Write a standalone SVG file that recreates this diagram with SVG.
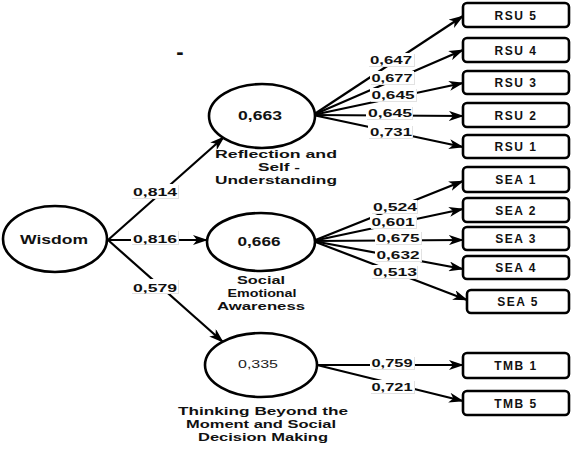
<svg xmlns="http://www.w3.org/2000/svg" width="576" height="450" viewBox="0 0 576 450">
<defs>
<marker id="ah" viewBox="0 0 15 10" refX="14" refY="5" markerWidth="15" markerHeight="10" markerUnits="userSpaceOnUse" orient="auto">
<path d="M0,0 L15,5 L0,10 L4,5 z" fill="#000"/>
</marker>
<style>
.ell{fill:#fff;stroke:#000;stroke-width:2.6}
.box{fill:#fff;stroke:#000;stroke-width:2.6}
.lt{font-family:"Liberation Sans",Arial,sans-serif;font-weight:bold;font-size:12px;fill:#111;text-anchor:middle}
.ml{font-family:"Liberation Sans",Arial,sans-serif;font-weight:bold;font-size:11px;fill:#111;text-anchor:middle}
.bt{font-family:"Liberation Sans",Arial,sans-serif;font-weight:bold;font-size:12px;fill:#111;text-anchor:middle;letter-spacing:1.5px}
.et{font-family:"Liberation Sans",Arial,sans-serif;font-weight:bold;font-size:11px;fill:#111;text-anchor:middle}
.con line{stroke:#000;stroke-width:2.2;marker-end:url(#ah)}
.lbl rect.bg{fill:#fff}
.lbl rect.sh{fill:#e2e2e2}
</style>
</defs>
<rect width="576" height="450" fill="#fff"/>

<text x="180" y="59" font-family="Liberation Sans, Arial, sans-serif" font-weight="bold" font-size="22" fill="#111" text-anchor="middle">-</text>

<g id="connectors" class="con">
<line x1="108" y1="240" x2="224" y2="137"/>
<line x1="108" y1="240" x2="207" y2="240"/>
<line x1="108" y1="240" x2="223" y2="342"/>
<line x1="313" y1="115" x2="463" y2="16"/>
<line x1="313" y1="115" x2="463" y2="50"/>
<line x1="313" y1="115" x2="463" y2="83"/>
<line x1="313" y1="115" x2="463" y2="116"/>
<line x1="313" y1="115" x2="463" y2="147"/>
<line x1="313" y1="241" x2="463" y2="181"/>
<line x1="313" y1="241" x2="463" y2="209"/>
<line x1="313" y1="241" x2="463" y2="240"/>
<line x1="313" y1="241" x2="463" y2="269"/>
<line x1="313" y1="241" x2="467" y2="300"/>
<line x1="317" y1="365" x2="463" y2="365"/>
<line x1="317" y1="365" x2="463" y2="401"/>
</g>

<g id="edge-labels" class="lbl">
<rect class="sh" x="132" y="185" width="47" height="14"/><rect class="bg" x="131" y="184" width="47" height="14"/><text x="155" y="196" class="et" textLength="44" lengthAdjust="spacingAndGlyphs">0,814</text>
<rect class="sh" x="132" y="231" width="47" height="14"/><rect class="bg" x="131" y="230" width="47" height="14"/><text x="155" y="243" class="et" textLength="44" lengthAdjust="spacingAndGlyphs">0,816</text>
<rect class="sh" x="132" y="280" width="47" height="14"/><rect class="bg" x="131" y="279" width="47" height="14"/><text x="155" y="292" class="et" textLength="44" lengthAdjust="spacingAndGlyphs">0,579</text>

<rect class="sh" x="369" y="54" width="46" height="13"/><rect class="bg" x="368" y="53" width="46" height="13"/><text x="391" y="64" class="et" textLength="42" lengthAdjust="spacingAndGlyphs">0,647</text>
<rect class="sh" x="371" y="72" width="44" height="13"/><rect class="bg" x="370" y="71" width="44" height="13"/><text x="392" y="82" class="et" textLength="41" lengthAdjust="spacingAndGlyphs">0,677</text>
<rect class="sh" x="371" y="89" width="46" height="13"/><rect class="bg" x="370" y="88" width="46" height="13"/><text x="393" y="99" class="et" textLength="43" lengthAdjust="spacingAndGlyphs">0,645</text>
<rect class="sh" x="367" y="107" width="46" height="13"/><rect class="bg" x="366" y="106" width="46" height="13"/><text x="390" y="117" class="et" textLength="44" lengthAdjust="spacingAndGlyphs">0,645</text>
<rect class="sh" x="369" y="126" width="44" height="13"/><rect class="bg" x="368" y="125" width="44" height="13"/><text x="391" y="136" class="et" textLength="42" lengthAdjust="spacingAndGlyphs">0,731</text>

<rect class="sh" x="372" y="201" width="46" height="13"/><rect class="bg" x="371" y="200" width="46" height="13"/><text x="395" y="211" class="et" textLength="44" lengthAdjust="spacingAndGlyphs">0,524</text>
<rect class="sh" x="371" y="216" width="46" height="13"/><rect class="bg" x="370" y="215" width="46" height="13"/><text x="393" y="226" class="et" textLength="43" lengthAdjust="spacingAndGlyphs">0,601</text>
<rect class="sh" x="376" y="232" width="46" height="13"/><rect class="bg" x="375" y="231" width="46" height="13"/><text x="398" y="242" class="et" textLength="43" lengthAdjust="spacingAndGlyphs">0,675</text>
<rect class="sh" x="376" y="249" width="46" height="13"/><rect class="bg" x="375" y="248" width="46" height="13"/><text x="398" y="259" class="et" textLength="43" lengthAdjust="spacingAndGlyphs">0,632</text>
<rect class="sh" x="372" y="266" width="46" height="13"/><rect class="bg" x="371" y="265" width="46" height="13"/><text x="395" y="276" class="et" textLength="44" lengthAdjust="spacingAndGlyphs">0,513</text>

<rect class="sh" x="371" y="357" width="44" height="13"/><rect class="bg" x="370" y="356" width="44" height="13"/><text x="392" y="367" class="et" textLength="41" lengthAdjust="spacingAndGlyphs">0,759</text>
<rect class="sh" x="371" y="381" width="44" height="13"/><rect class="bg" x="370" y="380" width="44" height="13"/><text x="392" y="391" class="et" textLength="41" lengthAdjust="spacingAndGlyphs">0,721</text>
</g>

<g id="wisdom">
<ellipse class="ell" cx="55" cy="239" rx="52" ry="33"/>
<text x="54" y="244" class="lt" font-size="13" textLength="68" lengthAdjust="spacingAndGlyphs">Wisdom</text>
</g>

<g id="rsu-latent">
<ellipse class="ell" cx="262" cy="116" rx="53" ry="32"/>
<text x="260" y="120" class="lt" textLength="44" lengthAdjust="spacingAndGlyphs">0,663</text>
<text x="276" y="158" class="ml" textLength="122" lengthAdjust="spacingAndGlyphs">Reflection and</text>
<text x="279" y="171" class="ml" textLength="42" lengthAdjust="spacingAndGlyphs">Self -</text>
<text x="276" y="184" class="ml" textLength="122" lengthAdjust="spacingAndGlyphs">Understanding</text>
</g>

<g id="sea-latent">
<ellipse class="ell" cx="261" cy="242" rx="54" ry="29"/>
<text x="259" y="246" class="lt" textLength="43" lengthAdjust="spacingAndGlyphs">0,666</text>
<text x="261" y="284" class="ml" textLength="48" lengthAdjust="spacingAndGlyphs">Social</text>
<text x="262" y="297" class="ml" textLength="69" lengthAdjust="spacingAndGlyphs">Emotional</text>
<text x="261" y="310" class="ml" textLength="88" lengthAdjust="spacingAndGlyphs">Awareness</text>
</g>

<g id="tmb-latent">
<ellipse class="ell" cx="261" cy="365" rx="56" ry="32"/>
<text x="258" y="368" font-family="Liberation Sans, Arial, sans-serif" font-size="10" fill="#222" text-anchor="middle" textLength="40" lengthAdjust="spacingAndGlyphs">0,335</text>
<text x="263" y="415" class="ml" textLength="170" lengthAdjust="spacingAndGlyphs">Thinking Beyond the</text>
<text x="261" y="428" class="ml" textLength="150" lengthAdjust="spacingAndGlyphs">Moment and  Social</text>
<text x="263" y="441" class="ml" textLength="130" lengthAdjust="spacingAndGlyphs">Decision Making</text>
</g>

<g id="rsu5"><rect class="box" x="463" y="3" width="106" height="24" rx="4"/><text x="516" y="20" class="bt">RSU 5</text></g>
<g id="rsu4"><rect class="box" x="463" y="38" width="106" height="24" rx="4"/><text x="516" y="55" class="bt">RSU 4</text></g>
<g id="rsu3"><rect class="box" x="463" y="71" width="106" height="23" rx="4"/><text x="516" y="87" class="bt">RSU 3</text></g>
<g id="rsu2"><rect class="box" x="463" y="103" width="106" height="24" rx="4"/><text x="516" y="120" class="bt">RSU 2</text></g>
<g id="rsu1"><rect class="box" x="463" y="135" width="106" height="23" rx="4"/><text x="516" y="151" class="bt">RSU 1</text></g>

<g id="sea1"><rect class="box" x="463" y="167" width="106" height="25" rx="4"/><text x="516" y="184" class="bt">SEA 1</text></g>
<g id="sea2"><rect class="box" x="463" y="198" width="106" height="24" rx="4"/><text x="516" y="215" class="bt">SEA 2</text></g>
<g id="sea3"><rect class="box" x="463" y="227" width="106" height="23" rx="4"/><text x="516" y="243" class="bt">SEA 3</text></g>
<g id="sea4"><rect class="box" x="463" y="256" width="106" height="23" rx="4"/><text x="516" y="272" class="bt">SEA 4</text></g>
<g id="sea5"><rect class="box" x="467" y="290" width="102" height="23" rx="4"/><text x="518" y="306" class="bt">SEA 5</text></g>

<g id="tmb1"><rect class="box" x="463" y="353" width="106" height="25" rx="4"/><text x="516" y="370" class="bt">TMB 1</text></g>
<g id="tmb5"><rect class="box" x="463" y="391" width="106" height="24" rx="4"/><text x="516" y="408" class="bt">TMB 5</text></g>
</svg>
